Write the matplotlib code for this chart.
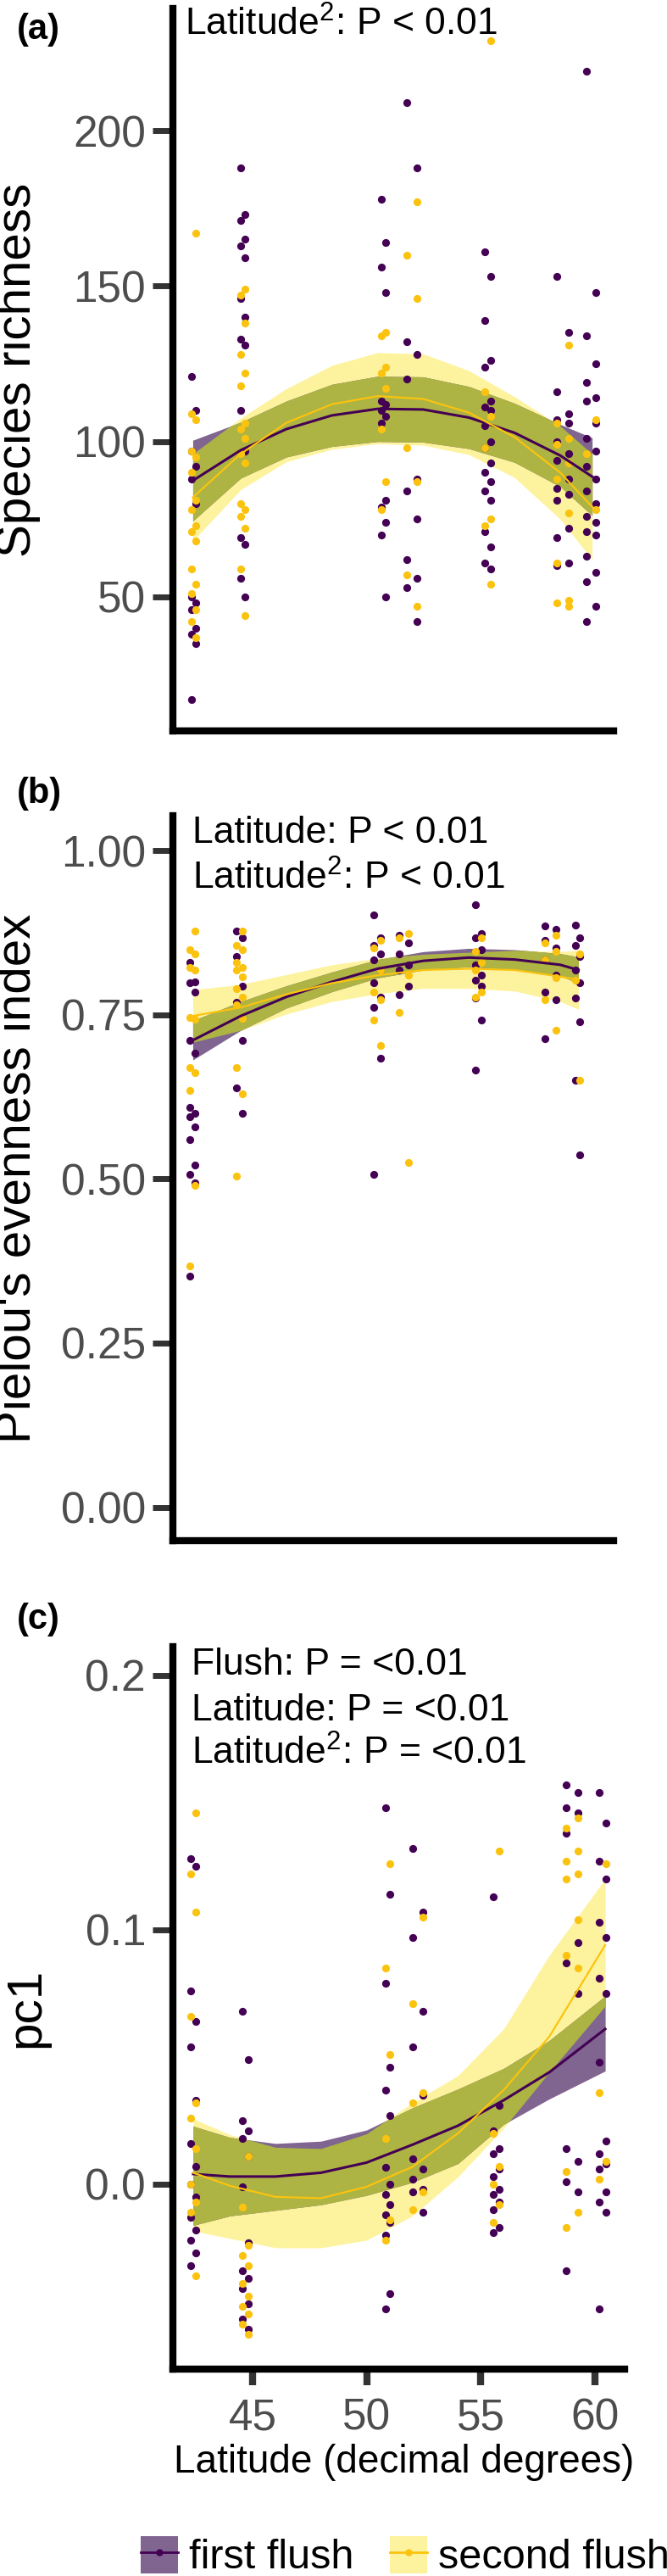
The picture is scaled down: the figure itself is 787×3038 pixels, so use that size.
import numpy as np
import matplotlib.pyplot as plt
from matplotlib.patches import Patch
from matplotlib.lines import Line2D

plt.rcParams.update(
    {
        "font.family": ["Liberation Sans", "DejaVu Sans"],
        "mathtext.default": "regular",
    }
)

PURPLE = "#440154"
YELLOW = "#fbc30f"
PURPLE_BAND = "#7f6590"
YELLOW_BAND = "#fdf39e"
OVERLAP_BAND = "#adb443"
TICK_GREY = "#333333"
LABEL_GREY = "#4d4d4d"

# ==================================================
# data
# ==================================================
# (a) species richness
SITES_A = [(42.86, 43.02), (45.0, 45.2), (51.17, 51.35), (52.29, 52.73),
           (55.68, 55.96), (58.84, 59.37), (60.17, 60.55)]
FIRST_A = [
    [121, 110, 97, 92, 88, 80, 50, 48, 46, 40, 38, 35, 17],
    [188, 173, 171, 165, 163, 159, 146, 140, 133, 131, 110, 97, 69, 67, 56, 50],
    [178, 164, 156, 148, 113, 112, 110, 108, 106, 81, 79, 74, 70, 50],
    [209, 188, 132, 128, 120, 88, 84, 75, 62, 56, 53, 42],
    [161, 153, 139, 126, 124, 113, 111, 110, 105, 100, 98, 93, 90, 87, 84, 81, 71, 66, 61, 59],
    [153, 135, 116, 109, 107, 106, 100, 96, 94, 88, 85, 83, 81, 72, 69, 61, 60],
    [219, 148, 134, 125, 119, 114, 113, 106, 101, 97, 92, 88, 84, 80, 76, 74, 71, 70, 63, 58, 55, 47, 42],
]
SECOND_A = [
    [167, 109, 107, 97, 95, 90, 81, 78, 73, 71, 68, 59, 54, 51, 46, 42, 37],
    [149, 147, 138, 128, 122, 118, 106, 104, 101, 96, 93, 80, 78, 76, 72, 59, 44],
    [135, 134, 124, 122, 117, 104, 87, 78],
    [177, 160, 146, 98, 87, 57, 47],
    [229, 116, 108, 98, 75, 73, 54],
    [131, 106, 101, 99, 93, 88, 77, 61, 49, 48, 47],
    [107, 96, 78],
]
FIT_LAT_A = [42.9, 45, 47, 49, 51, 53, 55, 57, 59, 60.4]
FIRST_FIT_A = [87.4, 97.2, 104.0, 108.4, 110.5, 110.3, 107.7, 102.8, 95.5, 88.7]
FIRST_LO_A = [74.4, 88.2, 95.0, 98.4, 100.0, 99.8, 97.7, 93.3, 85.5, 76.2]
FIRST_HI_A = [100.4, 106.2, 113.0, 118.4, 121.0, 120.8, 117.7, 112.3, 105.5, 101.2]
SECOND_FIT_A = [82.0, 96.0, 106.0, 112.0, 114.6, 113.7, 109.3, 101.4, 90.0, 79.0]
SECOND_LO_A = [68.0, 84.5, 93.5, 97.5, 99.3, 98.8, 95.8, 88.4, 75.0, 62.0]
SECOND_HI_A = [96.0, 107.5, 117.0, 124.5, 128.6, 128.2, 122.8, 114.4, 105.0, 96.0]

# (b) Pielou's evenness
SITES_B = [(42.76, 43.0), (44.81, 45.09), (50.83, 51.11), (51.95, 52.36),
           (55.3, 55.55), (58.34, 58.81), (59.68, 59.87)]
FIRST_B = [
    [0.83, 0.80, 0.798, 0.785, 0.711, 0.691, 0.609, 0.60, 0.595, 0.579, 0.56, 0.521, 0.507, 0.494, 0.352],
    [0.877, 0.867, 0.839, 0.793, 0.769, 0.711, 0.639, 0.60],
    [0.902, 0.867, 0.855, 0.843, 0.834, 0.818, 0.798, 0.777, 0.761, 0.684, 0.507],
    [0.871, 0.859, 0.843, 0.826, 0.818, 0.793, 0.781],
    [0.918, 0.874, 0.867, 0.849, 0.826, 0.81, 0.802, 0.793, 0.775, 0.742, 0.665],
    [0.885, 0.88, 0.863, 0.851, 0.834, 0.81, 0.785, 0.773, 0.713],
    [0.886, 0.867, 0.855, 0.839, 0.818, 0.798, 0.775, 0.739, 0.65, 0.537],
]
SECOND_B = [
    [0.877, 0.849, 0.843, 0.822, 0.818, 0.746, 0.743, 0.67, 0.662, 0.634, 0.49, 0.367],
    [0.877, 0.855, 0.849, 0.83, 0.822, 0.818, 0.808, 0.789, 0.777, 0.765, 0.744, 0.67, 0.63, 0.504],
    [0.863, 0.852, 0.818, 0.785, 0.773, 0.742, 0.703],
    [0.873, 0.867, 0.81, 0.754, 0.525],
    [0.867, 0.847, 0.83, 0.818, 0.785, 0.777],
    [0.871, 0.859, 0.847, 0.834, 0.806, 0.773, 0.726],
    [0.843, 0.802, 0.65],
]
FIT_LAT_B = [42.9, 45, 47, 49, 51, 53, 55, 57, 59, 59.8]
FIRST_FIT_B = [0.711, 0.748, 0.777, 0.800, 0.820, 0.832, 0.837, 0.834, 0.826, 0.818]
FIRST_LO_B = [0.681, 0.726, 0.760, 0.785, 0.806, 0.818, 0.823, 0.819, 0.809, 0.798]
FIRST_HI_B = [0.741, 0.770, 0.794, 0.815, 0.834, 0.846, 0.851, 0.849, 0.843, 0.838]
SECOND_FIT_B = [0.748, 0.761, 0.781, 0.798, 0.810, 0.818, 0.820, 0.818, 0.808, 0.803]
SECOND_LO_B = [0.708, 0.726, 0.751, 0.770, 0.782, 0.790, 0.790, 0.786, 0.770, 0.758]
SECOND_HI_B = [0.788, 0.796, 0.811, 0.826, 0.836, 0.842, 0.845, 0.848, 0.846, 0.848]

# (c) pc1
SITES_C = [(42.3, 42.52), (44.57, 44.81), (50.83, 51.02), (52.02, 52.45),
           (55.56, 55.81), (58.73, 59.25), (60.19, 60.47)]
FIRST_C = [
    [0.128, 0.125, 0.076, 0.064, 0.054, 0.033, 0.016, 0.007, 0.0, -0.005, -0.013, -0.018, -0.022, -0.027, -0.032],
    [0.068, 0.049, 0.025, 0.021, 0.018, 0.011, -0.001, -0.023, -0.034, -0.037, -0.041, -0.047, -0.053, -0.057],
    [0.148, 0.114, 0.079, 0.046, 0.037, 0.027, 0.0065, 0.0, -0.004, -0.008, -0.012, -0.015, -0.02, -0.043, -0.049],
    [0.132, 0.107, 0.097, 0.068, 0.054, 0.035, 0.01, 0.006, 0.002, -0.002, -0.003, -0.011],
    [0.113, 0.031, 0.021, 0.014, 0.012, 0.006, 0.003, -0.002, -0.004, -0.007, -0.01, -0.017, -0.019],
    [0.157, 0.154, 0.148, 0.146, 0.138, 0.095, 0.087, 0.075, 0.014, 0.009, 0.001, -0.003, -0.034],
    [0.154, 0.142, 0.127, 0.12, 0.103, 0.097, 0.081, 0.075, 0.048, 0.017, 0.012, 0.008, 0.006, -0.003, -0.007, -0.011, -0.049],
]
SECOND_C = [
    [0.146, 0.122, 0.107, 0.066, 0.032, 0.026, 0.014, 0.0, -0.007, -0.011, -0.036],
    [0.011, -0.009, -0.024, -0.028, -0.032, -0.039, -0.044, -0.048, -0.051, -0.055, -0.059],
    [0.126, 0.085, 0.051, 0.018, -0.014, -0.022],
    [0.105, 0.071, 0.036, 0.032, -0.003, -0.01],
    [0.131, 0.02, 0.007, 0.0, -0.008, -0.015],
    [0.144, 0.14, 0.131, 0.127, 0.122, 0.12, 0.104, 0.09, 0.085, 0.005, -0.011, -0.017],
    [0.126, 0.036, 0.009, 0.002],
]
FIT_LAT_C = [42.4, 44, 46, 48, 50, 52, 54, 56, 58, 60.45]
FIRST_FIT_C = [0.004, 0.003, 0.003, 0.0045, 0.0085, 0.0155, 0.023, 0.033, 0.044, 0.061]
FIRST_LO_C = [-0.0162, -0.0125, -0.0103, -0.0081, -0.0044, 0.0007, 0.0081, 0.0235, 0.0335, 0.0445]
FIRST_HI_C = [0.0228, 0.0184, 0.016, 0.0169, 0.0213, 0.030, 0.0374, 0.0455, 0.0565, 0.074]
SECOND_FIT_C = [0.0045, -0.0006, -0.005, -0.0055, -0.001, 0.0068, 0.02, 0.037, 0.058, 0.094]
SECOND_LO_C = [-0.0184, -0.0213, -0.025, -0.025, -0.022, -0.0125, 0.0029, 0.022, 0.044, 0.070]
SECOND_HI_C = [0.0257, 0.0195, 0.0145, 0.014, 0.0198, 0.032, 0.0427, 0.061, 0.090, 0.120]


# ==================================================
# helpers
# ==================================================
def column_points(sites, groups, shift):
    xs, ys = [], []
    for (left, right), vals in zip(sites, groups):
        for i, v in enumerate(vals):
            xs.append(right if (i + shift) % 2 else left)
            ys.append(v)
    return xs, ys


def draw_panel(ax, sites, first, second, lat, fits, ylim, xlim):
    f_fit, f_lo, f_hi, s_fit, s_lo, s_hi = [np.asarray(v) for v in fits]
    lat = np.asarray(lat)

    # ribbons, with the overlap shown in its own colour
    grid = np.linspace(lat[0], lat[-1], 300)
    flo, fhi = np.interp(grid, lat, f_lo), np.interp(grid, lat, f_hi)
    slo, shi = np.interp(grid, lat, s_lo), np.interp(grid, lat, s_hi)
    ax.fill_between(grid, slo, shi, color=YELLOW_BAND, lw=0, zorder=1)
    ax.fill_between(grid, flo, fhi, color=PURPLE_BAND, lw=0, zorder=1.1)
    top, bot = np.minimum(fhi, shi), np.maximum(flo, slo)
    ax.fill_between(grid, bot, top, where=top > bot, color=OVERLAP_BAND,
                    lw=0, zorder=1.2)

    x1, y1 = column_points(sites, first, 0)
    x2, y2 = column_points(sites, second, 1)
    ax.scatter(x1, y1, s=44, color=PURPLE, lw=0, zorder=3)
    ax.scatter(x2, y2, s=44, color=YELLOW, lw=0, zorder=3)

    ax.plot(lat, f_fit, color=PURPLE, lw=2.2, zorder=4)
    ax.plot(lat, s_fit, color=YELLOW, lw=1.6, zorder=4)

    ax.set_xlim(*xlim)
    ax.set_ylim(*ylim)
    for side in ("top", "right"):
        ax.spines[side].set_visible(False)
    for side in ("left", "bottom"):
        ax.spines[side].set_linewidth(6)
        ax.spines[side].set_color("black")
    ax.tick_params(axis="y", length=17.5, width=5, color=TICK_GREY,
                   labelsize=37, labelcolor=LABEL_GREY, pad=5.5)
    ax.tick_params(axis="x", length=0, labelbottom=False)


# ==================================================
# figure
# ==================================================
W, H = 787, 3038
fig = plt.figure(figsize=(W / 100, H / 100), dpi=100)


def axes_px(left, top, right, bottom):
    return fig.add_axes([left / W, 1 - bottom / H, (right - left) / W, (bottom - top) / H])


ax_a = axes_px(204, 10, 724, 862)
ax_b = axes_px(204, 962, 724, 1817)
ax_c = axes_px(204, 1942, 737, 2794)

draw_panel(ax_a, SITES_A, FIRST_A, SECOND_A, FIT_LAT_A,
           (FIRST_FIT_A, FIRST_LO_A, FIRST_HI_A, SECOND_FIT_A, SECOND_LO_A, SECOND_HI_A),
           (6.9, 239.3), (42.03, 61.34))
ax_a.set_yticks([50, 100, 150, 200])

draw_panel(ax_b, SITES_B, FIRST_B, SECOND_B, FIT_LAT_B,
           (FIRST_FIT_B, FIRST_LO_B, FIRST_HI_B, SECOND_FIT_B, SECOND_LO_B, SECOND_HI_B),
           (-0.051, 1.053), (42.03, 61.34))
ax_b.set_yticks([0, 0.25, 0.5, 0.75, 1.0])
ax_b.set_yticklabels(["0.00", "0.25", "0.50", "0.75", "1.00"])

draw_panel(ax_c, SITES_C, FIRST_C, SECOND_C, FIT_LAT_C,
           (FIRST_FIT_C, FIRST_LO_C, FIRST_HI_C, SECOND_FIT_C, SECOND_LO_C, SECOND_HI_C),
           (-0.0727, 0.2113), (41.51, 61.3))
ax_c.set_yticks([0.0, 0.1, 0.2])
ax_c.set_yticklabels(["0.0", "0.1", "0.2"])
ax_c.set_xticks([45, 50, 55, 60])
ax_c.tick_params(axis="x", length=14, width=6, color=TICK_GREY, labelbottom=True,
                 labelsize=37, labelcolor=LABEL_GREY, pad=10)

# axis titles
ax_a.set_ylabel("Species richness", fontsize=42)
ax_a.yaxis.set_label_coords(-0.300, 0.5)
ax_b.set_ylabel("Pielou's evenness index", fontsize=42)
ax_b.yaxis.set_label_coords(-0.300, 0.5)
ax_c.set_ylabel("pc1", fontsize=42)
ax_c.yaxis.set_label_coords(-0.274, 0.5)
ax_c.set_xlabel("Latitude (decimal degrees)", fontsize=33)
ax_c.xaxis.set_label_coords(0.512, -0.103)

# model annotations
note = dict(fontsize=32, va="baseline", ha="left")
ax_a.text(0.027, 0.9624, "Latitude$^{2}$: P < 0.01", transform=ax_a.transAxes, **note)
ax_b.text(0.044, 0.9626, "Latitude: P < 0.01", transform=ax_b.transAxes, **note)
ax_b.text(0.044, 0.8982, "Latitude$^{2}$: P < 0.01", transform=ax_b.transAxes, **note)
ax_c.text(0.041, 0.9613, "Flush: P = <0.01", transform=ax_c.transAxes, **note)
ax_c.text(0.041, 0.8979, "Latitude: P = <0.01", transform=ax_c.transAxes, **note)
ax_c.text(0.041, 0.8369, "Latitude$^{2}$: P = <0.01", transform=ax_c.transAxes, **note)

# panel letters
for label, ypx in (("(a)", 35), ("(b)", 936), ("(c)", 1910)):
    fig.text(20 / W, 1 - ypx / H, label, fontsize=30, fontweight="bold",
             ha="left", va="center")

# legend
handles = [
    (Patch(facecolor=PURPLE_BAND, edgecolor="none"),
     Line2D([], [], color=PURPLE, lw=2, marker="o", ms=5)),
    (Patch(facecolor=YELLOW_BAND, edgecolor="none"),
     Line2D([], [], color=YELLOW, lw=2, marker="o", ms=5)),
]
fig.legend(handles, ["first flush", "second flush"], loc="upper left",
           bbox_to_anchor=(166 / W, 1 - 2991 / H), ncol=2, frameon=False,
           fontsize=35, handlelength=0.9, handleheight=1.0, handletextpad=0.27,
           columnspacing=0.88, borderpad=0, borderaxespad=0)

fig.savefig("out.png", dpi=100)
